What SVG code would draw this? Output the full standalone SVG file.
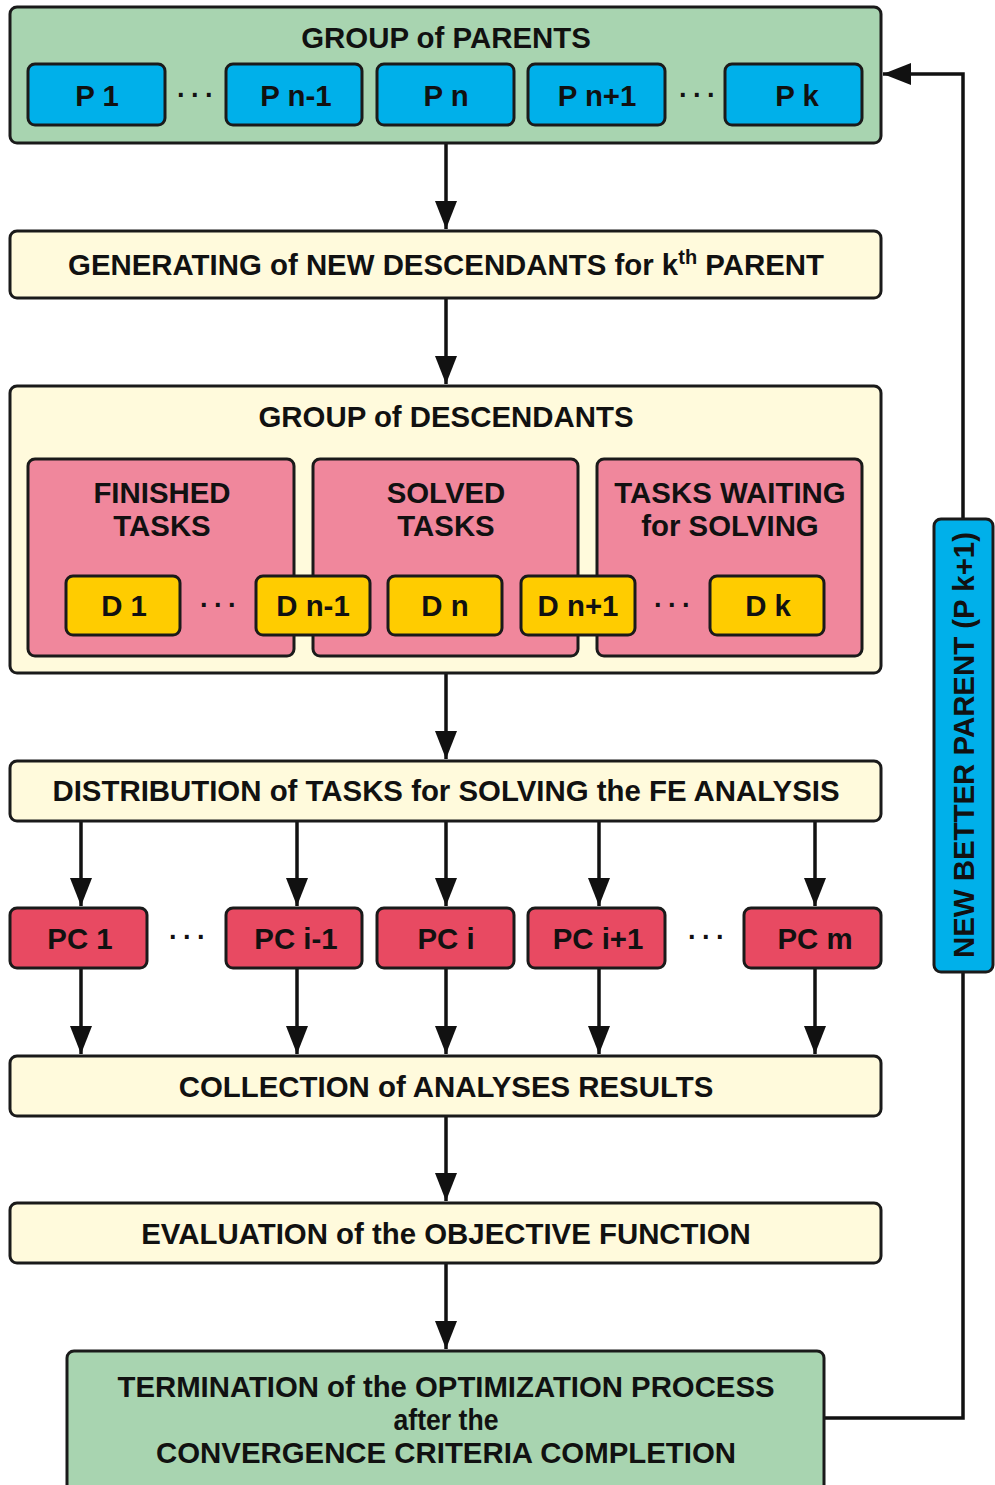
<svg xmlns="http://www.w3.org/2000/svg" width="995" height="1485" viewBox="0 0 995 1485">
<style>
.b{stroke:#1a1a1a;stroke-width:3}
.g{fill:#a8d4b0}.c{fill:#fffadc}.bl{fill:#00b0ea}.pk{fill:#f0879c}.y{fill:#ffcc00}.r{fill:#e84a62}
text{font-family:"Liberation Sans",Arial,sans-serif;font-weight:bold;fill:#111;text-anchor:middle}
.t{font-size:29.4px}
.d{font-size:27px;letter-spacing:5px}
.ln{stroke:#111;stroke-width:3.5;fill:none}
</style>
<defs>
<marker id="ah" viewBox="0 0 28 22" refX="28" refY="11" markerWidth="28" markerHeight="22" markerUnits="userSpaceOnUse" orient="auto">
<path d="M0,0 L28,11 L0,22 Z" fill="#111"/>
</marker>
</defs>
<g id="connectors">
<line class="ln" x1="446" y1="143" x2="446" y2="229" marker-end="url(#ah)"/>
<line class="ln" x1="446" y1="298" x2="446" y2="384" marker-end="url(#ah)"/>
<line class="ln" x1="446" y1="673" x2="446" y2="759" marker-end="url(#ah)"/>
<line class="ln" x1="81" y1="821" x2="81" y2="906" marker-end="url(#ah)"/>
<line class="ln" x1="297" y1="821" x2="297" y2="906" marker-end="url(#ah)"/>
<line class="ln" x1="446" y1="821" x2="446" y2="906" marker-end="url(#ah)"/>
<line class="ln" x1="599" y1="821" x2="599" y2="906" marker-end="url(#ah)"/>
<line class="ln" x1="815" y1="821" x2="815" y2="906" marker-end="url(#ah)"/>
<line class="ln" x1="81" y1="968" x2="81" y2="1054" marker-end="url(#ah)"/>
<line class="ln" x1="297" y1="968" x2="297" y2="1054" marker-end="url(#ah)"/>
<line class="ln" x1="446" y1="968" x2="446" y2="1054" marker-end="url(#ah)"/>
<line class="ln" x1="599" y1="968" x2="599" y2="1054" marker-end="url(#ah)"/>
<line class="ln" x1="815" y1="968" x2="815" y2="1054" marker-end="url(#ah)"/>
<line class="ln" x1="446" y1="1116" x2="446" y2="1201" marker-end="url(#ah)"/>
<line class="ln" x1="446" y1="1263" x2="446" y2="1349" marker-end="url(#ah)"/>
<polyline class="ln" points="824,1418 963,1418 963,74 883,74" marker-end="url(#ah)"/>
</g>
<g id="parents">
<rect class="b g" x="10" y="7" width="871" height="136" rx="7"/>
<text class="t" x="446" y="48">GROUP of PARENTS</text>
</g>
<g id="p1"><rect class="b bl" x="28" y="64" width="137" height="61" rx="7"/><text class="t" x="97" y="106">P 1</text></g>
<text class="d" x="198" y="104">···</text>
<g id="pn-1"><rect class="b bl" x="226" y="64" width="136" height="61" rx="7"/><text class="t" x="296" y="106">P n-1</text></g>
<g id="pn"><rect class="b bl" x="377" y="64" width="137" height="61" rx="7"/><text class="t" x="446" y="106">P n</text></g>
<g id="pn+1"><rect class="b bl" x="528" y="64" width="137" height="61" rx="7"/><text class="t" x="597" y="106">P n+1</text></g>
<text class="d" x="700" y="104">···</text>
<g id="pk"><rect class="b bl" x="725" y="64" width="137" height="61" rx="7"/><text class="t" x="797" y="106">P k</text></g>

<g id="generating">
<rect class="b c" x="10" y="231" width="871" height="67" rx="7"/>
<text class="t" x="446" y="275">GENERATING of NEW DESCENDANTS for k<tspan font-size="20" dy="-11">th</tspan><tspan dy="11"> PARENT</tspan></text>
</g>

<g id="descendants">
<rect class="b c" x="10" y="386" width="871" height="287" rx="7"/>
<text class="t" x="446" y="427">GROUP of DESCENDANTS</text>
</g>
<g id="finished"><rect class="b pk" x="28" y="459" width="266" height="197" rx="7"/><text class="t" x="162" y="503">FINISHED</text><text class="t" x="162" y="536">TASKS</text></g>
<g id="solved"><rect class="b pk" x="313" y="459" width="265" height="197" rx="7"/><text class="t" x="446" y="503">SOLVED</text><text class="t" x="446" y="536">TASKS</text></g>
<g id="waiting"><rect class="b pk" x="597" y="459" width="265" height="197" rx="7"/><text class="t" x="730" y="503">TASKS WAITING</text><text class="t" x="730" y="536">for SOLVING</text></g>
<g id="d1"><rect class="b y" x="66" y="576" width="114" height="59" rx="7"/><text class="t" x="124" y="616">D 1</text></g>
<text class="d" x="221" y="614">···</text>
<g id="dn-1"><rect class="b y" x="256" y="576" width="114" height="59" rx="7"/><text class="t" x="313" y="616">D n-1</text></g>
<g id="dn"><rect class="b y" x="388" y="576" width="114" height="59" rx="7"/><text class="t" x="445" y="616">D n</text></g>
<g id="dn+1"><rect class="b y" x="521" y="576" width="114" height="59" rx="7"/><text class="t" x="578" y="616">D n+1</text></g>
<text class="d" x="675" y="614">···</text>
<g id="dk"><rect class="b y" x="710" y="576" width="114" height="59" rx="7"/><text class="t" x="768" y="616">D k</text></g>

<g id="distribution">
<rect class="b c" x="10" y="761" width="871" height="60" rx="7"/>
<text class="t" x="446" y="801">DISTRIBUTION of TASKS for SOLVING the FE ANALYSIS</text>
</g>

<g id="pc1"><rect class="b r" x="10" y="908" width="137" height="60" rx="7"/><text class="t" x="80" y="949">PC 1</text></g>
<text class="d" x="190" y="946">···</text>
<g id="pci-1"><rect class="b r" x="226" y="908" width="136" height="60" rx="7"/><text class="t" x="296" y="949">PC i-1</text></g>
<g id="pci"><rect class="b r" x="377" y="908" width="137" height="60" rx="7"/><text class="t" x="446" y="949">PC i</text></g>
<g id="pci+1"><rect class="b r" x="528" y="908" width="137" height="60" rx="7"/><text class="t" x="598" y="949">PC i+1</text></g>
<text class="d" x="709" y="946">···</text>
<g id="pcm"><rect class="b r" x="744" y="908" width="137" height="60" rx="7"/><text class="t" x="815" y="949">PC m</text></g>

<g id="collection">
<rect class="b c" x="10" y="1056" width="871" height="60" rx="7"/>
<text class="t" x="446" y="1097">COLLECTION of ANALYSES RESULTS</text>
</g>
<g id="evaluation">
<rect class="b c" x="10" y="1203" width="871" height="60" rx="7"/>
<text class="t" x="446" y="1244">EVALUATION of the OBJECTIVE FUNCTION</text>
</g>
<g id="termination">
<rect class="b g" x="67" y="1351" width="757" height="150" rx="7"/>
<text class="t" x="446" y="1397" textLength="657" lengthAdjust="spacingAndGlyphs">TERMINATION of the OPTIMIZATION PROCESS</text>
<text class="t" x="446" y="1430" textLength="105" lengthAdjust="spacingAndGlyphs">after the</text>
<text class="t" x="446" y="1463" textLength="580" lengthAdjust="spacingAndGlyphs">CONVERGENCE CRITERIA COMPLETION</text>
</g>
<g id="newparent">
<rect class="b bl" x="934" y="519" width="59" height="453" rx="7"/>
<text class="t" transform="translate(974,745) rotate(-90)">NEW BETTER PARENT (P k+1)</text>
</g>
</svg>
